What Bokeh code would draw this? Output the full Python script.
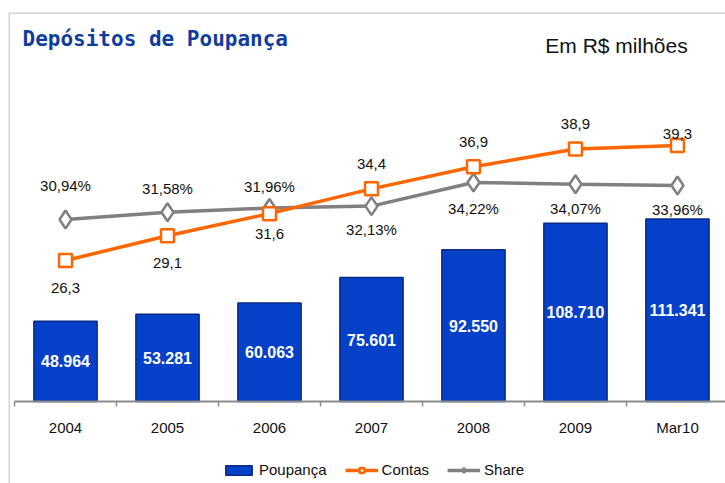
from bokeh.plotting import figure
from bokeh.models import (Range1d, LinearAxis, FixedTicker, Span, Label, Legend,
                          LegendItem)
from bokeh.core.properties import value
from bokeh.embed import file_html
from bokeh.resources import INLINE

# ---- data ----
categories = ["2004", "2005", "2006", "2007", "2008", "2009", "Mar10"]
poupanca = [48964, 53281, 60063, 75601, 92550, 108710, 111341]
contas = [26.3, 29.1, 31.6, 34.4, 36.9, 38.9, 39.3]
share = [30.94, 31.58, 31.96, 32.13, 34.22, 34.07, 33.96]

idx = list(range(len(categories)))
poup_labels = [f"{v:,}".replace(",", ".") for v in poupanca]
contas_labels = [f"{v:.1f}".replace(".", ",") for v in contas]
share_labels = [f"{v:.2f}".replace(".", ",") + "%" for v in share]

# label offsets (style, screen px)
contas_off = [27, 27, 20, -25, -25, -25, -12]
share_off = [-34, -24, -22, 23, 26, 24, 24]

FONT = "Liberation Sans"

p = figure(width=725, height=483, output_backend="svg", toolbar_location=None,
           x_range=Range1d(-0.559, 6.471), y_range=Range1d(-50020, 237290),
           min_border_left=8, min_border_right=0, min_border_top=12, min_border_bottom=0,
           x_axis_type=None, y_axis_type=None)
p.outline_line_color = None
p.background_fill_color = "white"
p.border_fill_color = "white"
p.extra_y_ranges = {"contas": Range1d(1.09, 54.34), "share": Range1d(7.54, 49.29)}

# frame borders
p.add_layout(Span(location=236985, dimension="width", line_color="#d4d4d4", line_width=2))
p.add_layout(Span(location=-0.554, dimension="height", line_color="#d4d4d4", line_width=2))

# x axis at zero
xaxis = LinearAxis(fixed_location=0,
                   ticker=FixedTicker(ticks=idx, minor_ticks=[i - 0.5 for i in range(len(categories) + 1)]),
                   major_label_overrides={i: c for i, c in enumerate(categories)})
xaxis.bounds = (-0.5, 6.5)
xaxis.axis_line_color = "#8c8c8c"
xaxis.axis_line_width = 2
xaxis.major_tick_line_color = None
xaxis.major_tick_out = 0
xaxis.major_tick_in = 0
xaxis.minor_tick_line_color = "#8c8c8c"
xaxis.minor_tick_line_width = 1.5
xaxis.minor_tick_out = 5
xaxis.minor_tick_in = 0
xaxis.major_label_standoff = 12
xaxis.major_label_text_font = FONT
xaxis.major_label_text_font_size = "15px"
xaxis.major_label_text_color = "#111111"
p.add_layout(xaxis, "below")

# bars
bars = p.vbar(x=idx, top=poupanca, bottom=0, width=0.62, fill_color="#0541c8",
              line_color="#0a2a86", line_width=1.5)
p.text(x=idx, y=[v / 2 for v in poupanca], text=poup_labels, text_font=value(FONT),
       text_font_size="16px", text_font_style="bold", text_color="white",
       text_align="center", text_baseline="middle")

# share line
share_line = p.line(idx, share, y_range_name="share", line_color="#808080", line_width=3.5)
share_pts = p.scatter(idx, share, y_range_name="share", marker="diamond", size=18,
                      fill_color="white", line_color="#808080", line_width=2.5)

# contas line
contas_line = p.line(idx, contas, y_range_name="contas", line_color="#ff6600", line_width=3.5)
contas_pts = p.scatter(idx, contas, y_range_name="contas", marker="square", size=13,
                       fill_color="white", line_color="#ff6600", line_width=2.5)

p.text(x=idx, y=share, y_range_name="share", text=share_labels, y_offset=share_off,
       text_font=value(FONT), text_font_size="15px", text_color="#111111",
       text_align="center", text_baseline="middle")
p.text(x=idx, y=contas, y_range_name="contas", text=contas_labels, y_offset=contas_off,
       text_font=value(FONT), text_font_size="15px", text_color="#111111",
       text_align="center", text_baseline="middle")

# titles
p.add_layout(Label(x=14, y=445, x_units="screen", y_units="screen",
                   text="Depósitos de Poupança", text_font="DejaVu Sans Mono",
                   text_font_style="bold", text_font_size="21px", text_color="#0f3d9e",
                   text_baseline="middle"))
p.add_layout(Label(x=608, y=438, x_units="screen", y_units="screen",
                   text="Em R$ milhões", text_font=FONT, text_font_size="21px",
                   text_color="#111111", text_align="center", text_baseline="middle"))

legend = Legend(items=[LegendItem(label="Poupança", renderers=[bars]),
                       LegendItem(label="Contas", renderers=[contas_line, contas_pts]),
                       LegendItem(label="Share", renderers=[share_line, share_pts])],
                location=(214, 5), orientation="horizontal",
                label_text_font=FONT, label_text_font_size="15px", label_text_color="#111111",
                glyph_width=33, glyph_height=12, label_standoff=4, spacing=18,
                padding=0, margin=0, border_line_color=None, background_fill_alpha=0)
p.add_layout(legend)

open("out.html", "w").write(file_html(p, INLINE))
